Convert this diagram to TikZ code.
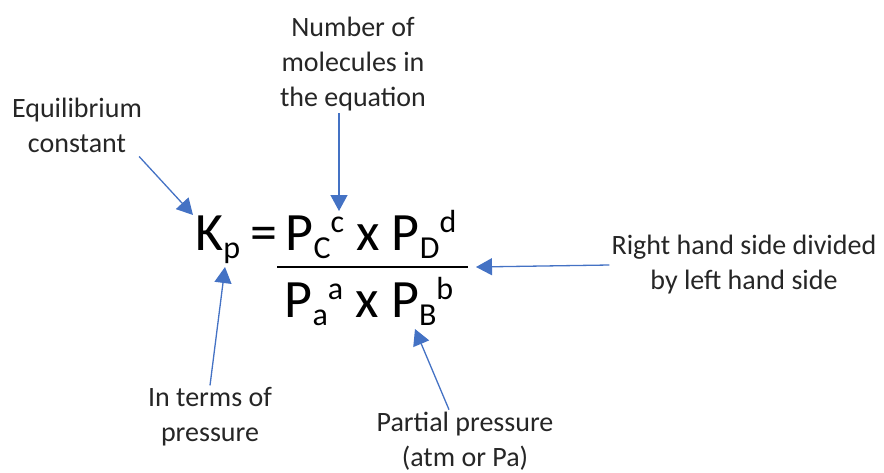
\documentclass[tikz,border=0pt]{standalone}
\usepackage{fontspec}
\setmainfont{Carlito}
\usepackage{tikz}
\usetikzlibrary{arrows.meta}
\definecolor{cblue}{HTML}{4472C4}
\definecolor{ctext}{HTML}{262626}
\newcommand{\lo}[1]{\raisebox{-8pt}{\fontsize{32}{32}\selectfont #1}}
\newcommand{\hi}[1]{\raisebox{18pt}{\fontsize{32}{32}\selectfont #1}}

\begin{document}
\begin{tikzpicture}[x=1pt,y=-1pt,
    eqn/.style={font=\fontsize{54}{60}\selectfont,inner sep=0pt},
    lab/.style={align=center,text=ctext,font=\fontsize{28}{35}\selectfont,inner sep=2pt},
    pointer/.style={cblue,line width=1.3pt,-{Triangle[length=16pt,width=17pt]}}]
  \useasboundingbox (0,0) rectangle (884,472);
  % the equation
  \node[eqn,anchor=base west] (kp) at (195,250) {K\lo{p}};
  \node[eqn,anchor=base] (equals) at (264,250) {=};
  \node[eqn,anchor=base] (numer) at (371,250) {P\lo{C}\hi{c} x P\lo{D}\hi{d}};
  \node[eqn,anchor=base] (denom) at (369,317) {P\lo{a}\hi{a} x P\lo{B}\hi{b}};
  \draw[line width=2.5pt] (277,267) -- (468,267);
  % labels
  \node[lab] (eqconst) at (77,125) {Equilibrium\\constant};
  \node[lab] (molec) at (353,64) {Number of\\molecules in\\the equation};
  \node[lab] (rhs) at (744,265) {Right hand side divided\\by left hand side};
  \node[lab] (interms) at (210,417) {In terms of\\pressure};
  \node[lab] (partial) at (465,441) {Partial pressure\\(atm or Pa)};
  % arrow ends
  \coordinate (kTip) at (193,215);
  \coordinate (cTip) at (339,211);
  \coordinate (barTip) at (476,267);
  \coordinate (pTip) at (225,267);
  \coordinate (bTip) at (415,329);
  \draw[pointer] ([xshift=-5pt,yshift=-2pt]eqconst.south east) -- (kTip);
  \draw[pointer] (molec.south -| cTip) -- (cTip);
  \draw[pointer] (rhs.west) -- (barTip);
  \draw[pointer] (interms.north) -- (pTip);
  \draw[pointer] ([xshift=-16pt]partial.north) -- (bTip);
\end{tikzpicture}
\end{document}
